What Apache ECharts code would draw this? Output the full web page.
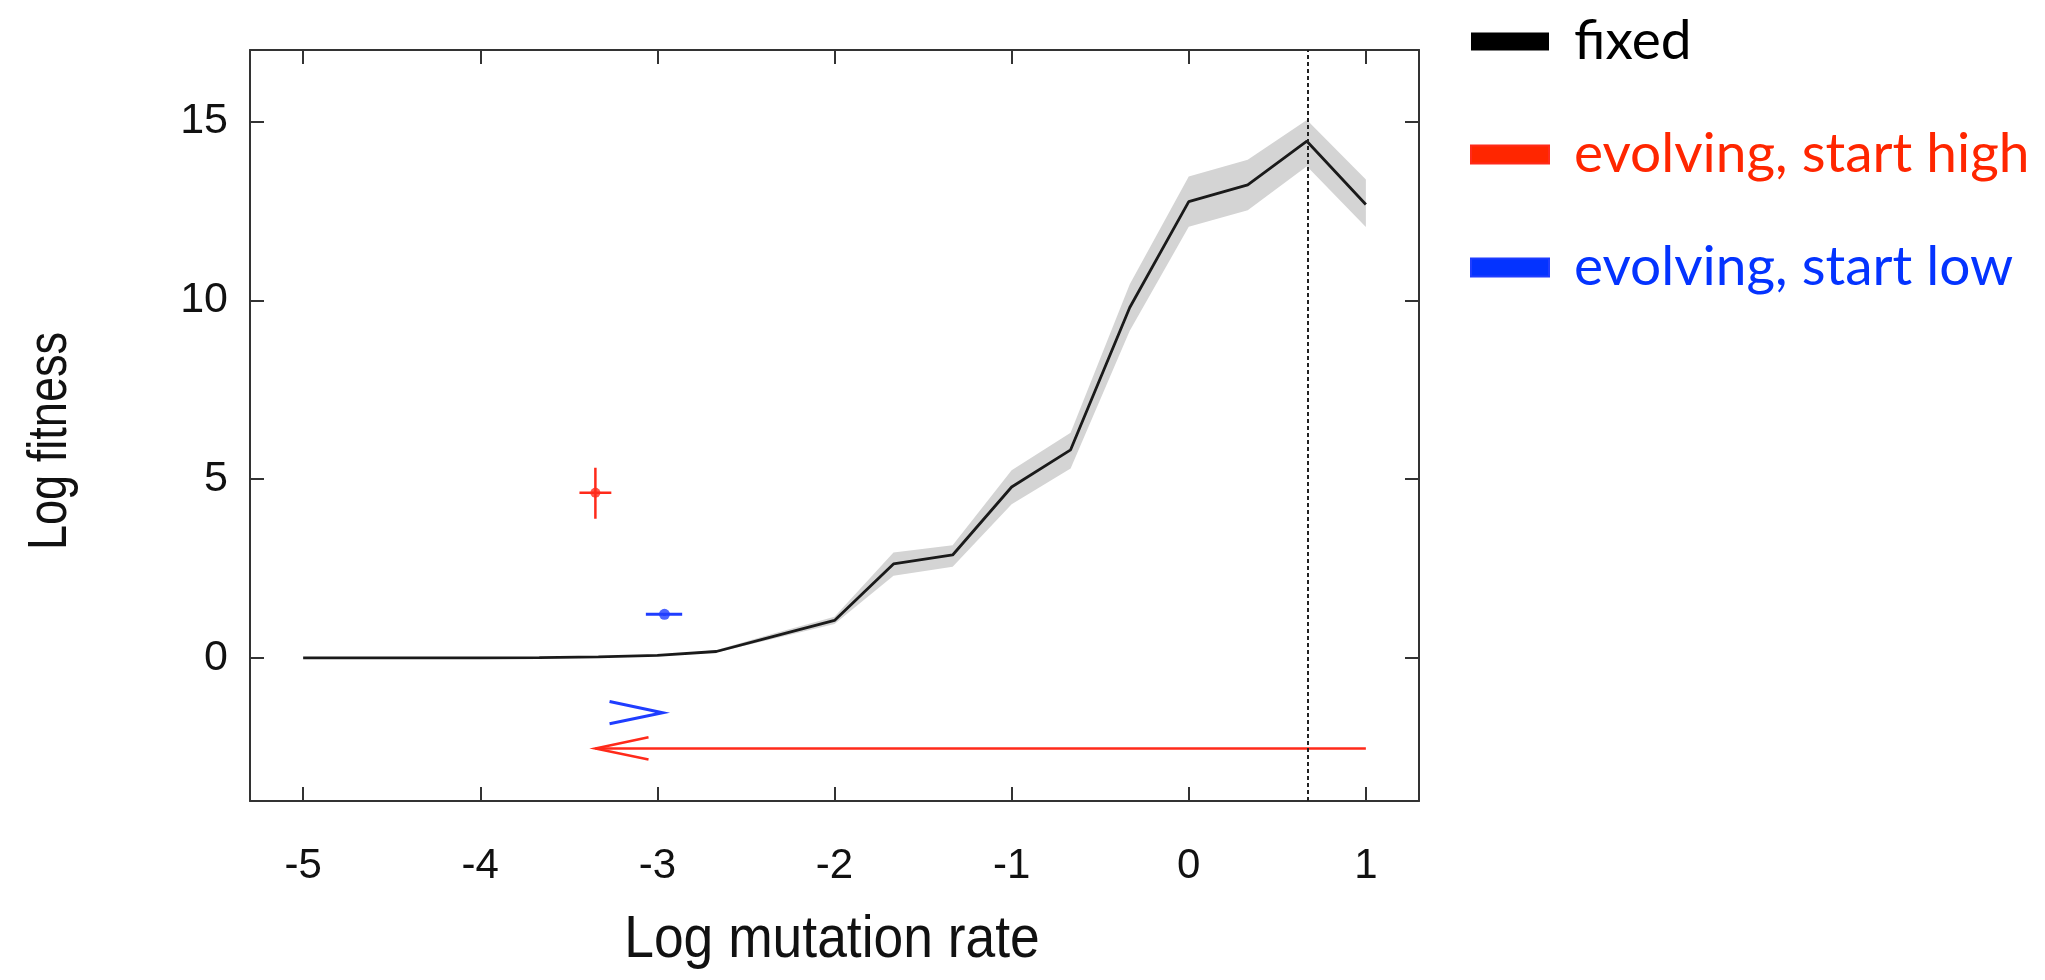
<!DOCTYPE html>
<html>
<head>
<meta charset="utf-8">
<script src="https://cdn.jsdelivr.net/npm/echarts@6/dist/echarts.min.js"></script>
<style>
html,body{margin:0;padding:0;background:#fff;}
#chart{width:2045px;height:980px;}
</style>
</head>
<body>
<div id="chart"></div>
<script>
// ---- data ----
const xTicks = [-5, -4, -3, -2, -1, 0, 1];
const yTicks = [0, 5, 10, 15];
const xs = [-5, -4.667, -4.333, -4, -3.667, -3.333, -3, -2.667, -2.333, -2, -1.667, -1.333, -1, -0.667, -0.333, 0, 0.333, 0.667, 1];
const fixedMean = [0, 0, 0, 0, 0.01, 0.03, 0.07, 0.18, 0.62, 1.05, 2.63, 2.88, 4.78, 5.82, 9.8, 12.76, 13.23, 14.45, 12.68];
const bandLow  = [0, 0, 0, 0, 0.01, 0.03, 0.07, 0.15, 0.55, 0.95, 2.3, 2.55, 4.3, 5.3, 9.15, 12.06, 12.52, 13.75, 12.05];
const bandHigh = [0, 0, 0, 0, 0.01, 0.03, 0.07, 0.22, 0.7, 1.15, 2.95, 3.15, 5.25, 6.3, 10.45, 13.46, 13.93, 15.04, 13.38];
const optimumX = [0.667];
// evolving, start high
const highX = [-3.35], highY = [4.62];
const highXErr = [-3.44, -3.26], highYErr = [3.89, 5.32];
const highArrowX = [1.0, -3.35], highArrowY = [-2.53];
// evolving, start low
const lowX = [-2.96], lowY = [1.22];
const lowXErr = [-3.065, -2.86], lowYErr = [1.18, 1.26];
const lowChevronX = [-2.97], lowChevronY = [-1.53];
const chevronArm = [0.30, 0.31];
const legendNames = ['fixed', 'evolving, start high', 'evolving, start low'];
const xTitle = 'Log mutation rate';
const yTitle = 'Log fitness';

// ---- colours ----
const RED = '#ff2a1a', BLUE = '#1f3dff';
const AXIS = '#333';

const chart = echarts.init(document.getElementById('chart'), null, {renderer: 'canvas'});
const plain = "'Liberation Sans', Arial, Helvetica, sans-serif";

function chevron(tipX, tipY, dir) {
  return {coords: [[tipX + dir * chevronArm[0], tipY + chevronArm[1]], [tipX, tipY], [tipX + dir * chevronArm[0], tipY - chevronArm[1]]]};
}

const option = {
  animation: false,
  backgroundColor: '#fff',
  grid: {left: 250, right: 626, top: 50, bottom: 179, containLabel: false},
  graphic: [
    {
      type: 'text', x: 832, y: 940, silent: true, scaleX: 0.89,
      style: {text: xTitle, font: "60px 'Liberation Sans', Arial, sans-serif", fill: '#111', align: 'center', verticalAlign: 'middle'}
    },
    {
      type: 'text', x: 51, y: 441, silent: true, rotation: Math.PI / 2, scaleX: 0.82,
      style: {text: yTitle, font: "55px 'Liberation Sans', Arial, sans-serif", fill: '#111', align: 'center', verticalAlign: 'middle'}
    }
  ],
  legend: {
    orient: 'vertical', left: 1465, top: 9,
    itemWidth: 78, itemHeight: 18, itemGap: 58, icon: 'rect',
    selectedMode: false,
    textStyle: {fontFamily: "Lato, 'Open Sans', sans-serif", fontSize: 55, padding: [0, 0, 0, 20]},
    data: [
      {name: legendNames[0], itemStyle: {color: '#000'}, textStyle: {color: '#000'}},
      {name: legendNames[1], itemStyle: {color: '#ff2600'}, textStyle: {color: '#ff2600'}},
      {name: legendNames[2], itemStyle: {color: '#0433ff'}, textStyle: {color: '#0433ff'}}
    ]
  },
  xAxis: [{
    type: 'value', min: -5.3, max: 1.3, position: 'bottom',
    splitLine: {show: false},
    axisLine: {show: true, onZero: false, lineStyle: {color: AXIS, width: 2}},
    axisTick: {show: true, inside: true, length: 14, customValues: xTicks, lineStyle: {color: AXIS, width: 2}},
    axisLabel: {show: true, customValues: xTicks, margin: 44, fontFamily: plain, fontSize: 42, color: '#111'}
  }, {
    type: 'value', min: -5.3, max: 1.3, position: 'top',
    splitLine: {show: false},
    axisLine: {show: true, onZero: false, lineStyle: {color: AXIS, width: 2}},
    axisTick: {show: true, inside: true, length: 14, customValues: xTicks, lineStyle: {color: AXIS, width: 2}},
    axisLabel: {show: false}
  }],
  yAxis: [{
    type: 'value', min: -4, max: 17, position: 'left',
    splitLine: {show: false},
    axisLine: {show: true, onZero: false, lineStyle: {color: AXIS, width: 2}},
    axisTick: {show: true, inside: true, length: 14, customValues: yTicks, lineStyle: {color: AXIS, width: 2}},
    axisLabel: {show: true, customValues: yTicks, margin: 22, fontFamily: plain, fontSize: 43, color: '#111'}
  }, {
    type: 'value', min: -4, max: 17, position: 'right',
    splitLine: {show: false},
    axisLine: {show: true, onZero: false, lineStyle: {color: AXIS, width: 2}},
    axisTick: {show: true, inside: true, length: 14, customValues: yTicks, lineStyle: {color: AXIS, width: 2}},
    axisLabel: {show: false}
  }],
  series: [
    {
      name: 'band', type: 'custom', coordinateSystem: 'cartesian2d', silent: true,
      data: [[xs[0], bandLow[0]]],
      renderItem: function (params, api) {
        const pts = [];
        for (let i = 0; i < xs.length; i++) pts.push(api.coord([xs[i], bandHigh[i]]));
        for (let i = xs.length - 1; i >= 0; i--) pts.push(api.coord([xs[i], bandLow[i]]));
        return {type: 'polygon', shape: {points: pts}, style: {fill: '#d4d4d4'}, silent: true};
      },
      z: 1
    },
    {
      name: legendNames[0], type: 'line', symbol: 'none', silent: true,
      lineStyle: {color: '#1a1a1a', width: 2.8},
      itemStyle: {color: '#000'},
      data: xs.map((x, i) => [x, fixedMean[i]]),
      markLine: {
        silent: true, symbol: 'none', label: {show: false},
        lineStyle: {color: '#222', width: 2, type: [4, 3]},
        data: optimumX.map(v => ({xAxis: v}))
      },
      z: 3
    },
    {
      name: legendNames[1], type: 'lines', coordinateSystem: 'cartesian2d', polyline: true, silent: true,
      lineStyle: {color: RED, width: 2.5, opacity: 1},
      itemStyle: {color: '#ff2600'},
      data: [
        {coords: [[highX[0], highYErr[0]], [highX[0], highYErr[1]]]},
        {coords: [[highXErr[0], highY[0]], [highXErr[1], highY[0]]]},
        {coords: [[highArrowX[0], highArrowY[0]], [highArrowX[1], highArrowY[0]]]},
        chevron(highArrowX[1], highArrowY[0], 1)
      ],
      z: 4
    },
    {
      name: legendNames[1], type: 'scatter', symbol: 'circle', symbolSize: 10, silent: true,
      itemStyle: {color: RED},
      data: highX.map((x, i) => [x, highY[i]]),
      z: 5
    },
    {
      name: legendNames[2], type: 'lines', coordinateSystem: 'cartesian2d', polyline: true, silent: true,
      lineStyle: {color: BLUE, width: 3, opacity: 1},
      itemStyle: {color: '#0433ff'},
      data: [
        {coords: [[lowXErr[0], lowY[0]], [lowXErr[1], lowY[0]]]},
        {coords: [[lowX[0], lowYErr[0]], [lowX[0], lowYErr[1]]]},
        chevron(lowChevronX[0], lowChevronY[0], -1)
      ],
      z: 4
    },
    {
      name: legendNames[2], type: 'scatter', symbol: 'circle', symbolSize: 11, silent: true,
      itemStyle: {color: BLUE},
      data: lowX.map((x, i) => [x, lowY[i]]),
      z: 5
    }
  ]
};
chart.setOption(option);
</script>
</body>
</html>
